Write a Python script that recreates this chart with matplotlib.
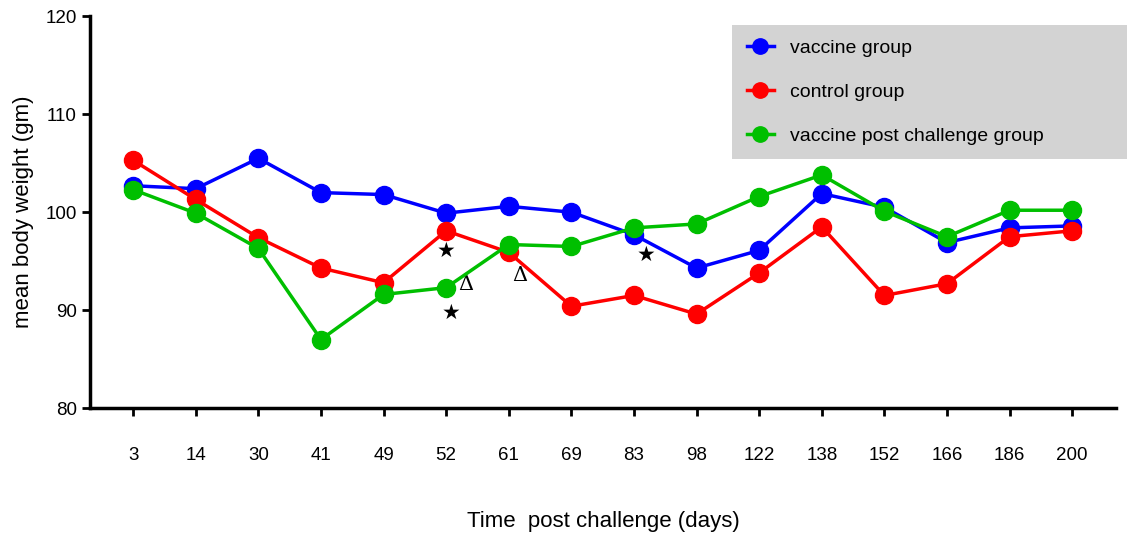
import matplotlib.pyplot as plt

days = ["3", "14", "30", "41", "49", "52", "61", "69", "83", "98",
        "122", "138", "152", "166", "186", "200"]
vaccine = [102.7, 102.4, 105.5, 102.0, 101.8, 99.9, 100.6, 100.0, 97.7, 94.3,
           96.1, 101.9, 100.5, 96.9, 98.4, 98.6]
control = [105.3, 101.3, 97.4, 94.3, 92.8, 98.1, 95.9, 90.4, 91.5, 89.6,
           93.8, 98.5, 91.5, 92.7, 97.5, 98.1]
post_challenge = [102.3, 99.9, 96.3, 87.0, 91.6, 92.3, 96.7, 96.5, 98.4, 98.8,
                  101.6, 103.8, 100.1, 97.5, 100.2, 100.2]

plt.rcParams['font.family'] = ['Liberation Sans', 'DejaVu Sans']

fig = plt.figure(figsize=(11.3, 5.42), dpi=100)
ax = fig.add_axes([0.0796, 0.247, 0.908, 0.723])

x = list(range(len(days)))
ax.plot(x, vaccine, '-o', color='#0000ff', lw=2.5, ms=13, label='vaccine group', zorder=3)
ax.plot(x, control, '-o', color='#ff0000', lw=2.5, ms=13, label='control group', zorder=4)
ax.plot(x, post_challenge, '-o', color='#00bf00', lw=2.5, ms=13,
        label='vaccine post challenge group', zorder=5)

# significance marks
ax.text(5, 96.0, '★', ha='center', va='center', fontsize=15, family='DejaVu Sans')
ax.text(5.08, 89.7, '★', ha='center', va='center', fontsize=15, family='DejaVu Sans')
ax.text(8.2, 95.6, '★', ha='center', va='center', fontsize=15, family='DejaVu Sans')
ax.text(5.32, 92.6, 'Δ', ha='center', va='center', fontsize=15, family='DejaVu Serif')
ax.text(6.18, 93.5, 'Δ', ha='center', va='center', fontsize=15, family='DejaVu Serif')

ax.set_xlim(-0.69, 15.7)
ax.set_ylim(80, 120)
ax.set_yticks([80, 90, 100, 110, 120])
ax.set_xticks(x)
ax.set_xticklabels(days)
ax.tick_params(axis='both', width=2, length=6, labelsize=13.5, colors='black')
ax.tick_params(axis='x', pad=22)
for s in ['top', 'right']:
    ax.spines[s].set_visible(False)
for s in ['left', 'bottom']:
    ax.spines[s].set_linewidth(2.5)

ax.set_xlabel('Time  post challenge (days)', fontsize=16, labelpad=34)
ax.set_ylabel('mean body weight (gm)', fontsize=16, labelpad=8)

leg = fig.legend(loc='upper left', bbox_to_anchor=(0.648, 0.710, 0.3496, 0.244),
                 mode='expand', fontsize=14, frameon=True, fancybox=False,
                 handlelength=1.4, handletextpad=0.8, labelspacing=1.35,
                 borderpad=0.75, borderaxespad=0, markerscale=0.85)
leg.get_frame().set_facecolor('#d3d3d3')
leg.get_frame().set_edgecolor('none')
leg.get_frame().set_alpha(1)

fig.savefig('out.png', dpi=100)
